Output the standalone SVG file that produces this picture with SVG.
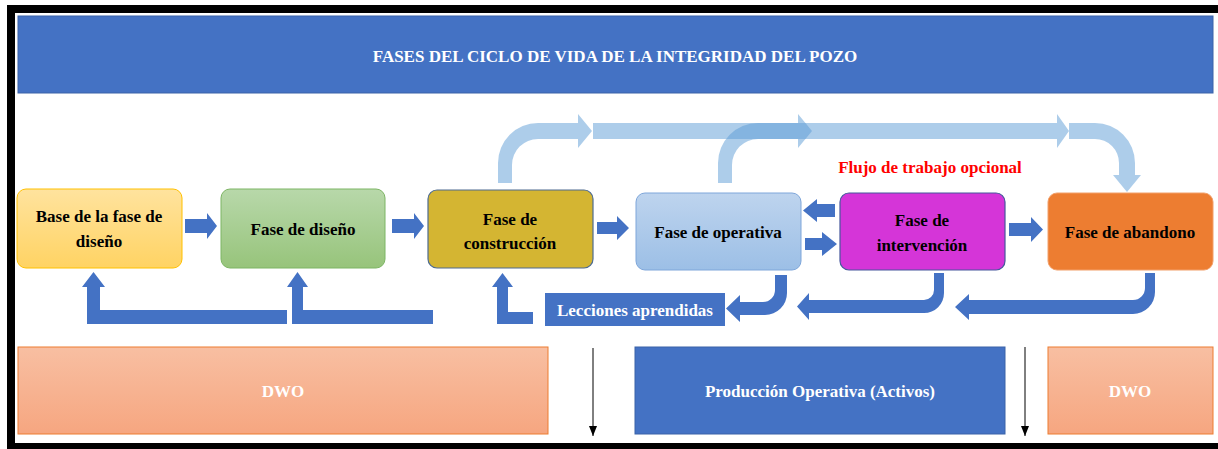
<svg xmlns="http://www.w3.org/2000/svg" width="1218" height="449" viewBox="0 0 1218 449">
<defs>
<linearGradient id="gY" x1="0" y1="0" x2="0" y2="1"><stop offset="0" stop-color="#FFE39E"/><stop offset="1" stop-color="#FFD363"/></linearGradient>
<linearGradient id="gG" x1="0" y1="0" x2="0" y2="1"><stop offset="0" stop-color="#B8D8AA"/><stop offset="1" stop-color="#97C47B"/></linearGradient>
<linearGradient id="gB" x1="0" y1="0" x2="0" y2="1"><stop offset="0" stop-color="#BED4EE"/><stop offset="1" stop-color="#9CBFE6"/></linearGradient>
<linearGradient id="gO" x1="0" y1="0" x2="0" y2="1"><stop offset="0" stop-color="#F8BFA2"/><stop offset="1" stop-color="#F6A680"/></linearGradient>
<marker id="ah" markerWidth="10" markerHeight="8" refX="10" refY="4" orient="auto" markerUnits="userSpaceOnUse" viewBox="0 0 10 8"><path d="M0,0 L10,4 L0,8 Z" fill="#000"/></marker>
</defs>
<style>
.t{font-family:"Liberation Serif","Times New Roman",serif;font-weight:bold;font-size:17px;text-anchor:middle;fill:#000}
.w{fill:#fff}
.r{fill:#FF0000}
.blk{fill:#4472C4}
.lt{fill:#5B9BD5;fill-opacity:0.5}
</style>
<rect x="7" y="5" width="1211" height="444" fill="#000"/>
<rect x="15" y="13" width="1203" height="430" fill="#fff"/>

<g id="title">
<rect x="18" y="16" width="1195" height="77" fill="#4472C4" stroke="#3A63A8" stroke-width="1"/>
<text class="t w" x="615" y="62">FASES DEL CICLO DE VIDA DE LA INTEGRIDAD DEL POZO</text>
</g>

<g id="connectors">
<path class="lt" d="M498,183 V163 A40,40 0 0 1 538,123 H578 V114 L592,131 L578,148 V139 H538 A26,26 0 0 0 512,165 V183 Z"/>
<path class="lt" d="M593,123 H1057 V114 L1069,131 L1057,148 V139 H593 Z"/>
<path class="lt" d="M718,183 V163 A40,40 0 0 1 758,123 H798 V114 L812,131 L798,148 V139 H758 A26,26 0 0 0 732,165 V183 Z"/>
<path class="lt" d="M1069,123 H1095 A40,40 0 0 1 1135,163 V175 H1141 L1127,192 L1113,175 H1119 V163 A24,24 0 0 0 1095,139 H1069 Z"/>

<path class="blk" d="M185,219 H207 V213 L217,226 L207,239 V233 H185 Z"/>
<path class="blk" d="M392,219 H414 V213 L424,226 L414,239 V233 H392 Z"/>
<path class="blk" d="M597,222 H617 V216 L629,228 L617,240 V234 H597 Z"/>
<path class="blk" d="M835,204 H817 V199 L803,210.5 L817,222 V217 H835 Z"/>
<path class="blk" d="M805,238 H822 V232 L837,244 L822,256 V250 H805 Z"/>
<path class="blk" d="M1009,223 H1031 V217 L1043,229.5 L1031,242 V236 H1009 Z"/>

<path class="blk" d="M287,310 H100 V287 H105 L93.5,272 L82,287 H87 V324 H287 Z"/>
<path class="blk" d="M433,310 H303 V287 H308 L297.5,272 L287,287 H292 V324 H433 Z"/>
<path class="blk" d="M533,312 H508 V287 H513 L502.5,273 L492,287 H497 V324 H533 Z"/>
<path class="blk" d="M775,275 V290 A12,12 0 0 1 763,302 H740 V295 L726,308.5 L740,322 V315 H765 A22,22 0 0 0 787,293 V275 Z"/>
<path class="blk" d="M934,273 V290 A10,10 0 0 1 924,300 H809 V293 L797,306.5 L809,320 V313 H924 A20,20 0 0 0 944,293 V273 Z"/>
<path class="blk" d="M1145,273 V288 A12,12 0 0 1 1133,300 H969 V294 L955,307 L969,320 V314 H1133 A22,22 0 0 0 1155,292 V273 Z"/>

<line x1="593" y1="348" x2="593" y2="436" stroke="#000" stroke-width="1" marker-end="url(#ah)"/>
<line x1="1025" y1="347" x2="1025" y2="436" stroke="#000" stroke-width="1" marker-end="url(#ah)"/>
</g>

<g id="base-diseno">
<rect x="17" y="189" width="165" height="79" rx="9" fill="url(#gY)" stroke="#FFC000" stroke-width="1"/>
<text class="t" x="99" y="222">Base de la fase de</text>
<text class="t" x="99" y="247">diseño</text>
</g>
<g id="fase-diseno">
<rect x="221" y="189" width="164" height="79" rx="9" fill="url(#gG)" stroke="#7DB564" stroke-width="1"/>
<text class="t" x="303" y="235">Fase de diseño</text>
</g>
<g id="fase-construccion">
<rect x="428" y="190" width="165" height="78" rx="9" fill="#D4B532" stroke="#4E6B90" stroke-width="1.2"/>
<text class="t" x="510" y="225">Fase de</text>
<text class="t" x="510" y="249">construcción</text>
</g>
<g id="fase-operativa">
<rect x="636" y="193" width="165" height="77" rx="9" fill="url(#gB)" stroke="#7EA6DA" stroke-width="1"/>
<text class="t" x="718" y="238">Fase de operativa</text>
</g>
<g id="fase-intervencion">
<rect x="840" y="193" width="165" height="77" rx="9" fill="#D535D8" stroke="#46579C" stroke-width="1.2"/>
<text class="t" x="922" y="226">Fase de</text>
<text class="t" x="922" y="251">intervención</text>
</g>
<g id="fase-abandono">
<rect x="1048" y="193" width="165" height="77" rx="9" fill="#ED7D31" stroke="#F2A06A" stroke-width="1"/>
<text class="t" x="1130" y="238">Fase de abandono</text>
</g>
<g id="lecciones">
<rect x="545" y="293" width="180" height="33" fill="#4472C4"/>
<text class="t w" x="635" y="316">Lecciones aprendidas</text>
</g>
<g id="flujo-label">
<text class="t r" x="930" y="173">Flujo de trabajo opcional</text>
</g>
<g id="dwo-left">
<rect x="18" y="347" width="530" height="87" fill="url(#gO)" stroke="#ED7D31" stroke-width="1"/>
<text class="t w" x="283" y="397">DWO</text>
</g>
<g id="produccion">
<rect x="635" y="347" width="370" height="87" fill="#4472C4" stroke="#3A63A8" stroke-width="1"/>
<text class="t w" x="820" y="397">Producción Operativa (Activos)</text>
</g>
<g id="dwo-right">
<rect x="1048" y="347" width="165" height="87" fill="url(#gO)" stroke="#ED7D31" stroke-width="1"/>
<text class="t w" x="1130" y="397">DWO</text>
</g>
</svg>
